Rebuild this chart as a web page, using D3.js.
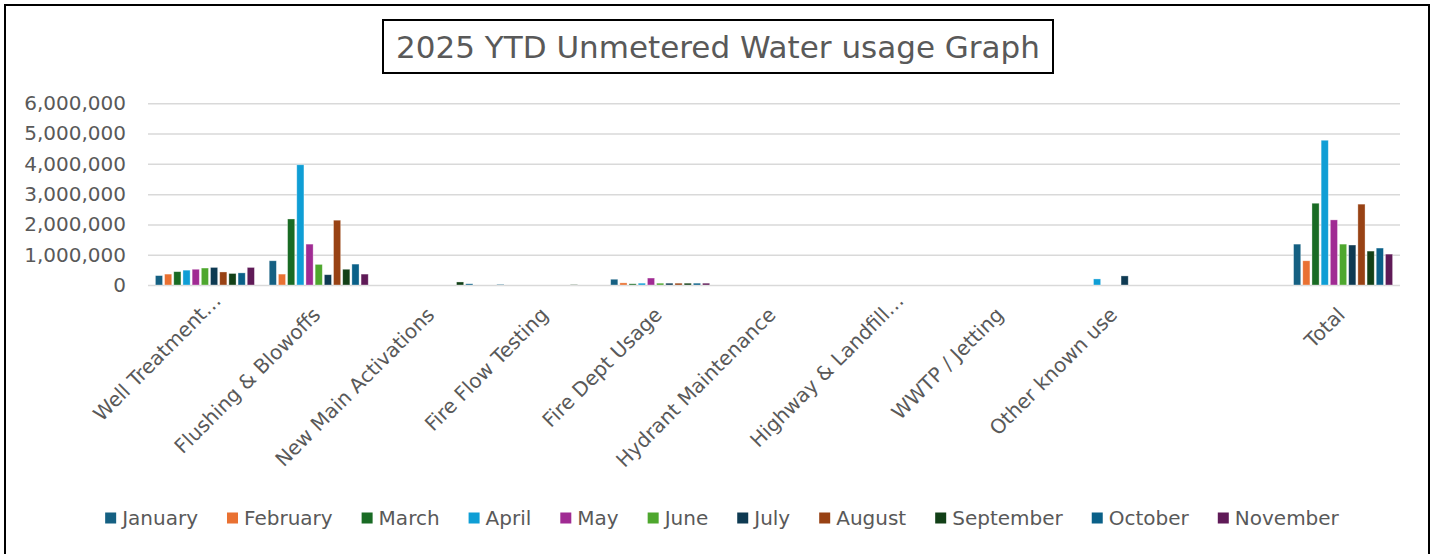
<!DOCTYPE html>
<html>
<head>
<title>2025 YTD Unmetered Water usage Graph</title>

<script src="https://d3js.org/d3.v7.min.js"></script>

<style>

body,html {
  margin: 0;
  padding: 0;
  background: #fff;
}

svg {
  display: block;
  font-family: "DejaVu Sans", sans-serif;
}

</style>

</head>

<body>

<svg id="chart" width="1432" height="554"></svg>

<script>

// categories along the x axis (one blank slot before Total, as in the sheet)
const categories = ["Well Treatment\u2026", "Flushing & Blowoffs", "New Main Activations",
  "Fire Flow Testing", "Fire Dept Usage", "Hydrant Maintenance", "Highway & Landfill\u2026",
  "WWTP / Jetting", "Other known use", "", "Total"];

const months = ["January", "February", "March", "April", "May", "June", "July",
  "August", "September", "October", "November"];

const monthColors = ["#156082", "#E97132", "#196B24", "#0F9ED5", "#A02B93", "#4EA72E",
  "#0E3A52", "#984214", "#124017", "#0A6088", "#5F1A57"];

const yTicks = [0, 1000000, 2000000, 3000000, 4000000, 5000000, 6000000];

// gallons per month, Jan..Nov
const wellTreatment = [310000, 360000, 440000, 490000, 520000, 560000, 580000, 430000, 380000, 400000, 580000];
const flushing      = [800000, 360000, 2180000, 3970000, 1350000, 680000, 340000, 2140000, 520000, 690000, 360000];
const newMain       = [0, 0, 0, 0, 0, 0, 0, 0, 100000, 40000, 0];
const fireFlow      = [20000, 0, 0, 0, 0, 0, 0, 0, 10000, 0, 0];
const fireDept      = [190000, 70000, 40000, 60000, 230000, 60000, 60000, 60000, 60000, 60000, 60000];
const hydrant       = [0, 0, 0, 0, 0, 0, 0, 0, 0, 0, 0];
const highway       = [0, 0, 0, 0, 0, 0, 0, 0, 0, 0, 0];
const wwtp          = [0, 0, 0, 0, 0, 0, 0, 0, 0, 0, 0];
const otherKnown    = [0, 0, 0, 200000, 0, 0, 300000, 0, 0, 0, 0];
const blank         = [];
const total         = [1350000, 800000, 2700000, 4780000, 2150000, 1350000, 1320000, 2670000, 1120000, 1220000, 1020000];

const rows = [wellTreatment, flushing, newMain, fireFlow, fireDept, hydrant, highway,
  wwtp, otherKnown, blank, total];

const textColor = "#595959";
const gridColor = "#d9d9d9";

main();

function main() {
  const svg = d3.select("#chart");
  drawFrame(svg);
  drawChart(svg);
  drawLegend(svg);
}

function drawFrame(svg) {
  svg.append("rect")
     .attr("x", 5).attr("y", 5)
     .attr("width", 1424).attr("height", 580)
     .attr("fill", "#fff")
     .attr("stroke", "#000")
     .attr("stroke-width", 2);

  svg.append("rect")
     .attr("x", 383).attr("y", 20)
     .attr("width", 670).attr("height", 53)
     .attr("fill", "#fff")
     .attr("stroke", "#000")
     .attr("stroke-width", 2);

  svg.append("text")
     .attr("x", 718).attr("y", 58)
     .attr("text-anchor", "middle")
     .attr("fill", textColor)
     .style("font-size", "31px")
     .text("2025 YTD Unmetered Water usage Graph");
}

function drawChart(svg) {
  const left = 148, right = 1400, top = 103.3, bottom = 285;

  const x0 = d3.scaleBand()
               .domain(d3.range(categories.length))
               .range([left, right])
               .paddingInner(0.13)
               .paddingOuter(0.065);

  const x1 = d3.scaleBand()
               .domain(d3.range(months.length))
               .range([0, x0.bandwidth()])
               .paddingInner(0.22);

  const y = d3.scaleLinear()
              .domain([0, 6000000])
              .range([bottom, top]);

  const yAxis = d3.axisLeft(y)
                  .tickValues(yTicks)
                  .tickSize(-(right - left))
                  .tickPadding(22)
                  .tickFormat(d3.format(","));

  const ag = svg.append("g")
     .attr("transform", "translate(" + left + ",0)")
     .call(yAxis);

  ag.select(".domain").remove();
  ag.selectAll("line")
     .attr("stroke", gridColor)
     .attr("stroke-width", 1.5);
  ag.selectAll("text")
     .attr("fill", textColor)
     .style("font-size", "20px")
     .style("font-family", "DejaVu Sans, sans-serif");

  // bars
  const groups = svg.append("g").selectAll("g")
     .data(rows)
     .join("g")
     .attr("transform", (d, i) => "translate(" + x0(i) + ",0)");

  groups.selectAll("rect")
     .data(d => d.map((v, j) => ({ v: v, j: j })).filter(e => e.v > 0))
     .join("rect")
     .attr("x", e => x1(e.j))
     .attr("width", x1.bandwidth())
     .attr("y", e => y(e.v))
     .attr("height", e => y(0) - y(e.v))
     .attr("fill", e => monthColors[e.j])
     .attr("stroke", "#fff")
     .attr("stroke-opacity", 0.45)
     .attr("stroke-width", 0.75);

  // category labels, rotated
  svg.append("g").selectAll("text")
     .data(categories)
     .join("text")
     .attr("transform", (d, i) => "translate(" + (x0(i) + x0.bandwidth() / 2 + 3) + ",316) rotate(-45)")
     .attr("x", d => d.endsWith("\u2026") ? 20 : 0)
     .attr("text-anchor", "end")
     .attr("fill", textColor)
     .style("font-size", "20px")
     .text(d => d);
}

function drawLegend(svg) {
  const legend = svg.append("g");
  const box = 11, gap = 6, spacing = 29, cy = 518;

  const items = legend.selectAll("g")
     .data(months)
     .join("g");

  items.append("rect")
     .attr("width", box).attr("height", box)
     .attr("y", cy - box / 2)
     .attr("fill", (d, i) => monthColors[i]);

  items.append("text")
     .attr("x", box + gap)
     .attr("y", cy)
     .attr("dy", "0.35em")
     .attr("fill", textColor)
     .style("font-size", "20px")
     .text(d => d);

  const widths = [];
  items.each(function() {
    widths.push(box + gap + d3.select(this).select("text").node().getComputedTextLength());
  });
  const totalWidth = d3.sum(widths) + spacing * (widths.length - 1);
  let pos = 722 - totalWidth / 2;
  items.each(function(d, i) {
    d3.select(this).attr("transform", "translate(" + pos + ",0)");
    pos += widths[i] + spacing;
  });
}

</script>

</body>
</html>
